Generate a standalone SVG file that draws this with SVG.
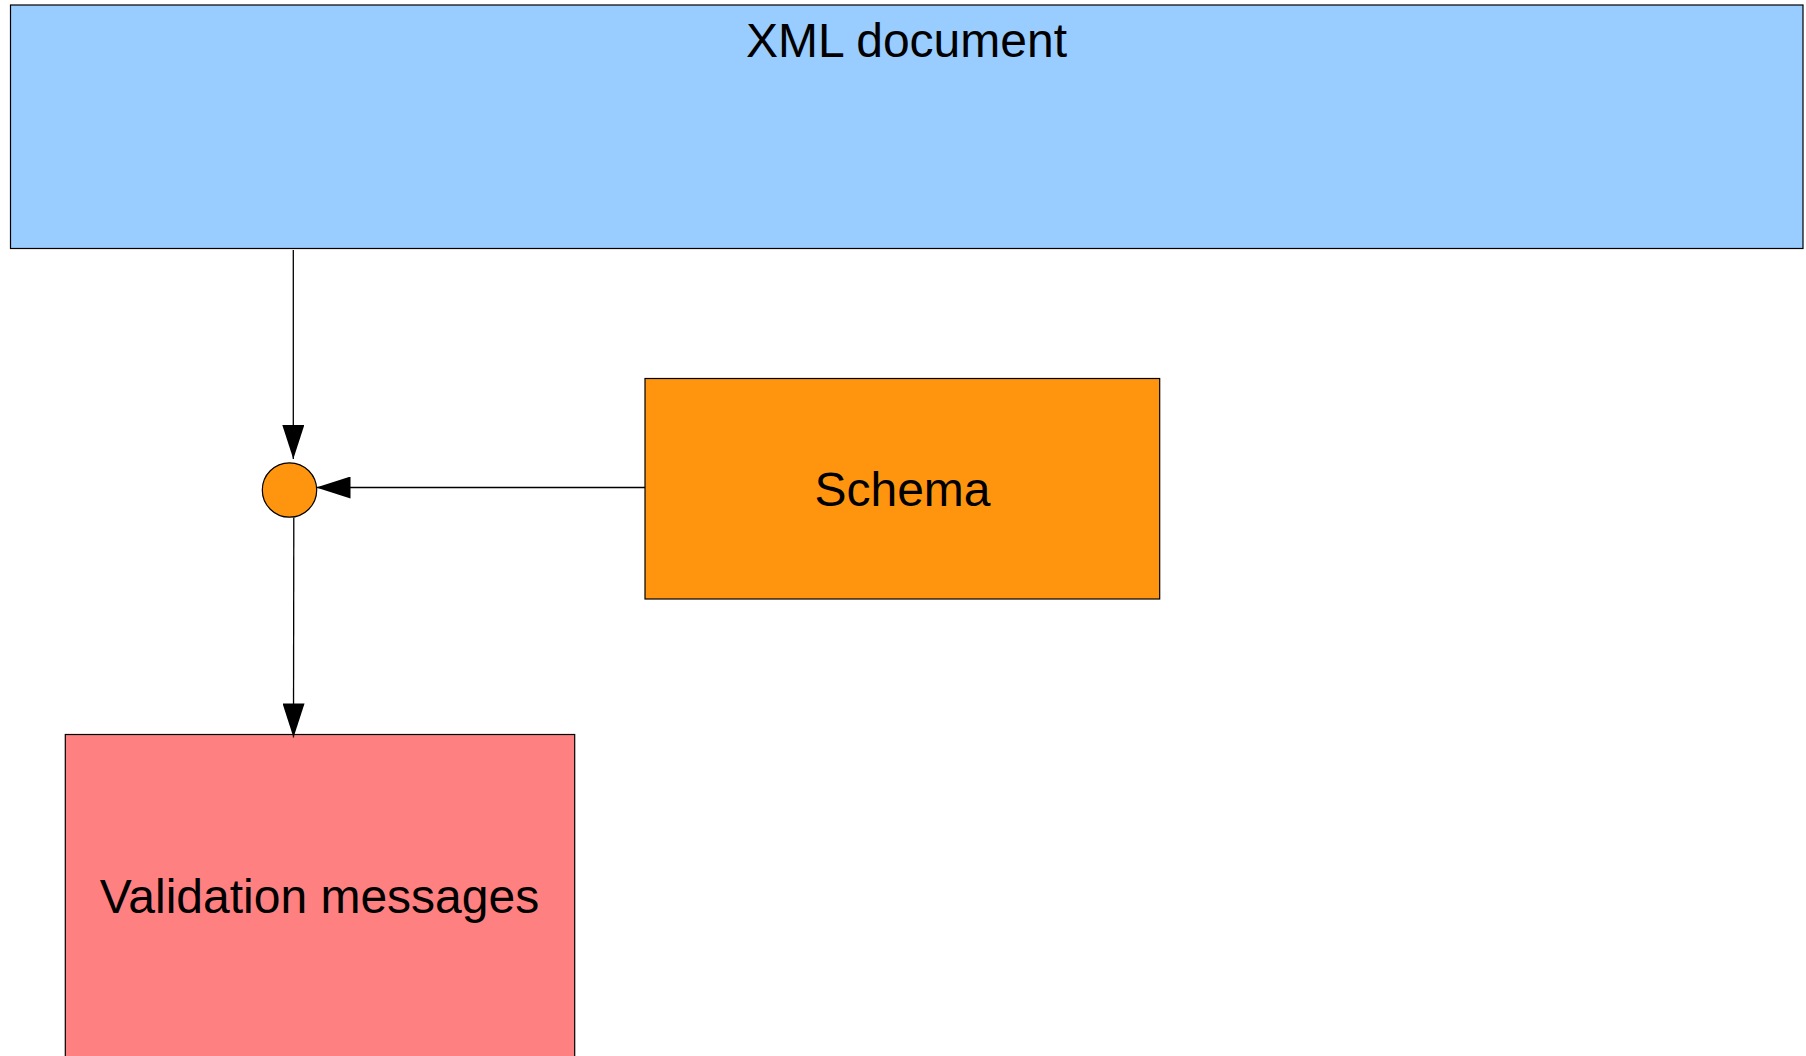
<svg xmlns="http://www.w3.org/2000/svg" width="1806" height="1056" viewBox="0 0 1806 1056">
  <style>
    .node { stroke: #000000; stroke-width: 1.2; }
    .label { font-family: "Liberation Sans", Arial, sans-serif; font-size: 48px; fill: #000000; text-anchor: middle; }
    .conn { stroke: #000000; stroke-width: 1.3; fill: none; marker-end: url(#arrow); }
  </style>
  <defs>
    <marker id="arrow" markerUnits="userSpaceOnUse" viewBox="0 0 34 22" markerWidth="34" markerHeight="22" refX="34" refY="11" orient="auto">
      <path d="M0,0 L34,11 L0,22 Z" fill="#000000"/>
    </marker>
  </defs>
  <rect width="1806" height="1056" fill="#ffffff"/>

  <g id="xml-document">
    <rect class="node" x="10.5" y="5" width="1792.5" height="243.5" fill="#99ccff"/>
    <text class="label" x="906.5" y="57">XML document</text>
  </g>

  <g id="schema">
    <rect class="node" x="645" y="378.5" width="514.7" height="220.5" fill="#ff950e"/>
    <text class="label" x="902.5" y="505.5">Schema</text>
  </g>

  <g id="validator">
    <circle class="node" cx="289.5" cy="490" r="27.2" fill="#ff950e"/>
  </g>

  <g id="validation-messages">
    <rect class="node" x="65.3" y="734.5" width="509.4" height="340" fill="#ff8080"/>
    <text class="label" x="319.5" y="912.5">Validation messages</text>
  </g>

  <g id="connectors">
    <path class="conn" d="M293.3,250 L293.3,459"/>
    <path class="conn" d="M645,487.5 L316.5,487.5"/>
    <path class="conn" d="M293.8,517.5 L293.5,737.5"/>
  </g>
</svg>
